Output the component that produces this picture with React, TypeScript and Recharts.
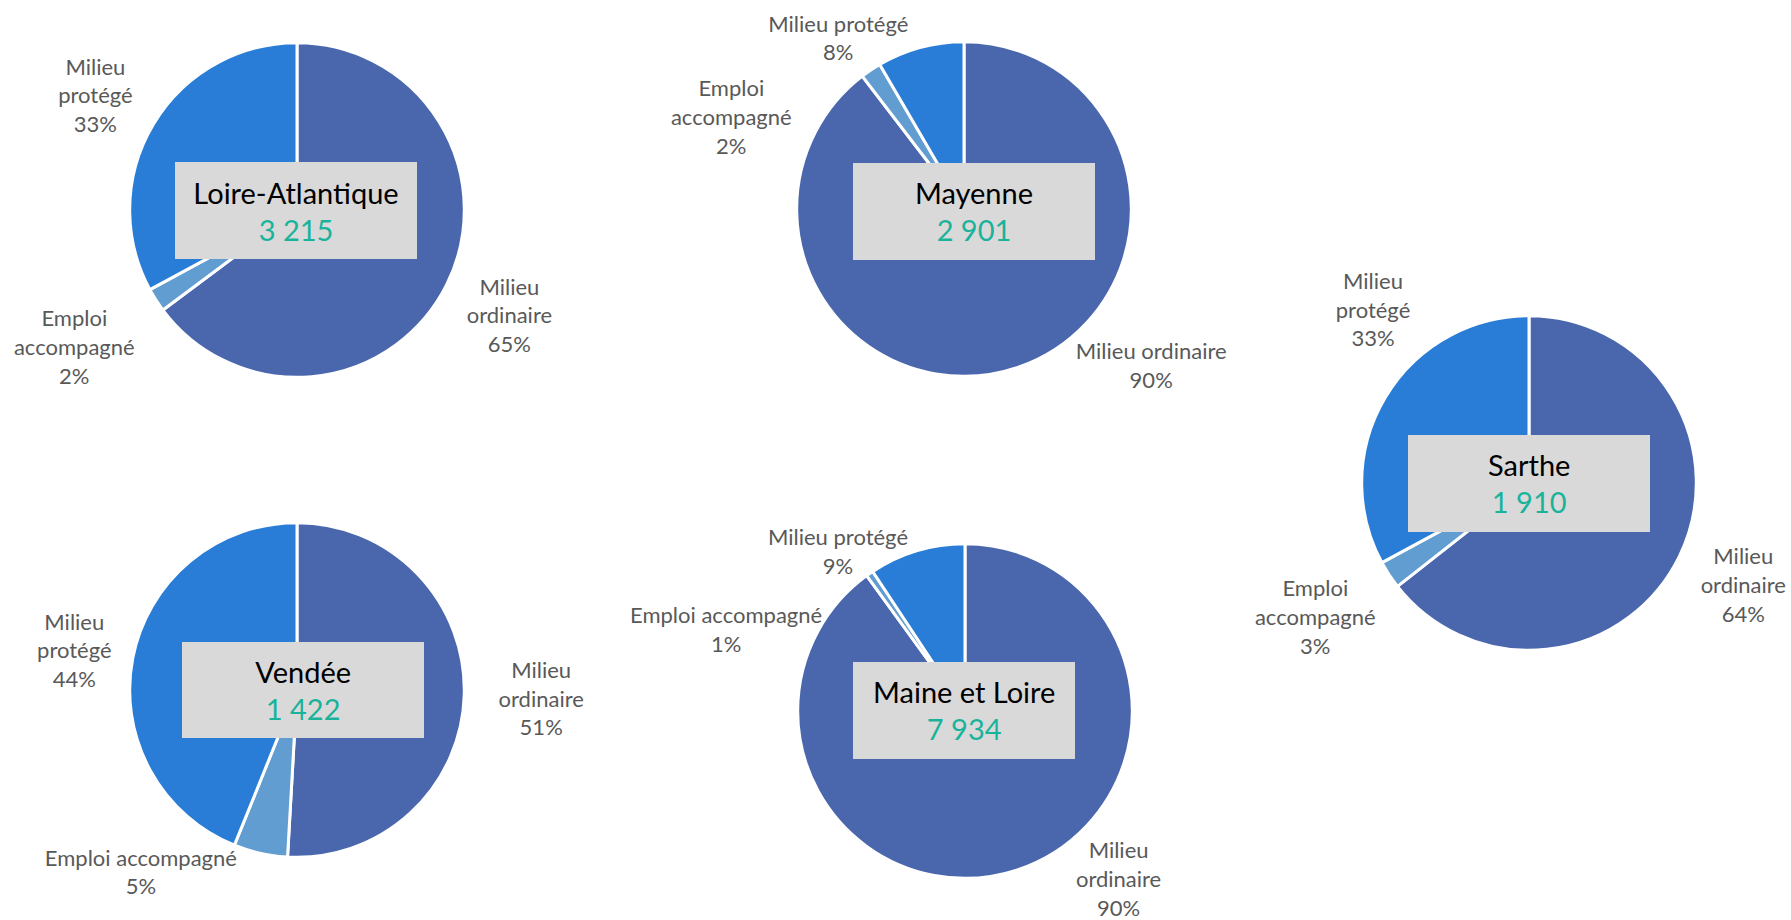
import { Cell, Pie, PieChart } from "recharts";

// data (share of each slice, %)
const categories = ["Milieu ordinaire", "Emploi accompagné", "Milieu protégé"];
const departements = ["Loire-Atlantique", "Mayenne", "Sarthe", "Vendée", "Maine et Loire"];
const totals = [3215, 2901, 1910, 1422, 7934];
const milieuOrdinaire = [64.8, 89.6, 64.4, 50.9, 90.0];
const emploiAccompagne = [2.3, 2.0, 2.7, 5.2, 0.7];
const milieuProtege = [32.9, 8.4, 32.9, 43.9, 9.3];

const COLORS = ["#4A67AD", "#629DD1", "#2A7DD6"];
const FONT = "Lato, 'Open Sans', sans-serif";

// layout: centre of each pie on the page and offset/width of the centre box
const pieLayout = [
  { cx: 296.6, cy: 210.2, box: { dx: -0.6, dy: 0.3, w: 242 } },
  { cx: 964.2, cy: 208.8, box: { dx: 9.8, dy: 2.5, w: 242 } },
  { cx: 1529.2, cy: 483.3, box: { dx: 0, dy: 0, w: 242 } },
  { cx: 296.6, cy: 690.2, box: { dx: 6.5, dy: 0, w: 242 } },
  { cx: 965.4, cy: 711.3, box: { dx: -1.2, dy: -1, w: 222 } },
];

// label offsets from the pie centre (px) and whether the name wraps
const labelOffsets = [
  [[212.4, 104.8], [-222.7, 136.5], [-201.6, -115.2]],
  [[187.2, 155.7], [-232.7, -92.8], [-125.7, -171.6]],
  [[214.3, 101.7], [-213.7, 133.4], [-156, -174]],
  [[244.2, 8.1], [-156.1, 181.5], [-222.7, -40.2]],
  [[153.6, 167.5], [-238.9, -82.1], [-127, -160.3]],
];
const labelWrap = [
  [true, true, true],
  [false, true, false],
  [true, true, true],
  [true, false, true],
  [true, false, false],
];

const W = 720;
const H = 480;
const CX = W / 2;
const CY = H / 2;
const R = 167.3;
const LINE = 28.8;
const BOX_H = 96.5;

const fmt = (n: number) => String(n).replace(/\B(?=(\d{3})+(?!\d))/g, " ");

function DeptPie({ i }: { i: number }) {
  const lay = pieLayout[i];
  const data = categories.map((name, c) => ({
    name,
    value: [milieuOrdinaire, emploiAccompagne, milieuProtege][c][i],
  }));

  const renderLabel = (props: any) => {
    const idx = props.index as number;
    const [dx, dy] = labelOffsets[i][idx];
    const name = categories[idx];
    const pct = `${Math.round((props.percent ?? 0) * 100)}%`;
    const sp = name.indexOf(" ");
    const lines = labelWrap[i][idx] ? [name.slice(0, sp), name.slice(sp + 1), pct] : [name, pct];
    const x = CX + dx;
    const y0 = CY + dy - ((lines.length - 1) * LINE) / 2;
    return (
      <text key={`l${idx}`} x={x} y={y0} textAnchor="middle" fill="#595959" fontSize={22} fontFamily={FONT}>
        {lines.map((t, j) => (
          <tspan key={j} x={x} y={y0 + j * LINE} dominantBaseline="central">
            {t}
          </tspan>
        ))}
      </text>
    );
  };

  return (
    <div
      style={{
        position: "absolute",
        left: lay.cx - CX,
        top: lay.cy - CY,
        width: W,
        height: H,
      }}
    >
      <PieChart width={W} height={H} margin={{ top: 0, right: 0, bottom: 0, left: 0 }}>
        <Pie
          data={data}
          dataKey="value"
          nameKey="name"
          cx={CX}
          cy={CY}
          outerRadius={R}
          startAngle={90}
          endAngle={-270}
          stroke="#ffffff"
          strokeWidth={3}
          label={renderLabel}
          labelLine={false}
          isAnimationActive={false}
        >
          {data.map((d, c) => (
            <Cell key={d.name} fill={COLORS[c]} />
          ))}
        </Pie>
      </PieChart>
      <div
        style={{
          position: "absolute",
          left: CX + lay.box.dx - lay.box.w / 2,
          top: CY + lay.box.dy - BOX_H / 2,
          width: lay.box.w,
          height: BOX_H,
          background: "#D9D9D9",
          display: "flex",
          flexDirection: "column",
          alignItems: "center",
          justifyContent: "center",
          fontFamily: FONT,
          fontSize: 29,
          lineHeight: "37px",
        }}
      >
        <div style={{ color: "#000000" }}>{departements[i]}</div>
        <div style={{ color: "#19B39C" }}>{fmt(totals[i])}</div>
      </div>
    </div>
  );
}

export default function App() {
  return (
    <div
      style={{
        position: "absolute",
        left: 0,
        top: 0,
        width: 1791,
        height: 920,
        overflow: "hidden",
        background: "#ffffff",
      }}
    >
      {departements.map((d, i) => (
        <DeptPie key={d} i={i} />
      ))}
    </div>
  );
}
